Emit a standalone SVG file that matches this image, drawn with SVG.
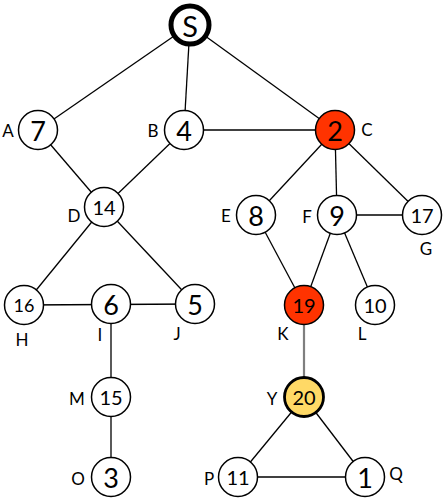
<svg xmlns="http://www.w3.org/2000/svg" width="444" height="498" viewBox="0 0 444 498">
<style>
.n{fill:#fff;stroke:#000;stroke-width:1.5}
.t{font-family:Lato,"Open Sans",sans-serif;text-anchor:middle;dominant-baseline:central;fill:#000}
.big{font-size:27px}
.sm{font-size:20px}
.lb{font-family:Lato,"Open Sans",sans-serif;font-size:17px;text-anchor:middle;dominant-baseline:central;fill:#000}
#edges line{stroke:#000;stroke-width:1.3}
</style>
<rect width="444" height="498" fill="#fff"/>
<g id="edges">
<line x1="190" y1="25" x2="38" y2="130"/>
<line x1="190" y1="25" x2="184" y2="130"/>
<line x1="190" y1="25" x2="335" y2="130"/>
<line x1="38" y1="130" x2="104" y2="207"/>
<line x1="184" y1="130" x2="104" y2="207"/>
<line x1="184" y1="130" x2="335" y2="130"/>
<line x1="335" y1="130" x2="256" y2="215"/>
<line x1="335" y1="130" x2="337" y2="215"/>
<line x1="335" y1="130" x2="422" y2="215"/>
<line x1="337" y1="215" x2="422" y2="215"/>
<line x1="104" y1="207" x2="24" y2="305"/>
<line x1="104" y1="207" x2="195" y2="304"/>
<line x1="24" y1="305" x2="195" y2="304"/>
<line x1="111" y1="304" x2="111" y2="477"/>
<line x1="256" y1="215" x2="304" y2="305"/>
<line x1="337" y1="215" x2="304" y2="305"/>
<line x1="337" y1="215" x2="375" y2="305"/>
<line x1="304" y1="305" x2="304" y2="397" style="stroke:#7f7f7f;stroke-width:2.2"/>
<line x1="304" y1="397" x2="238" y2="477"/>
<line x1="304" y1="397" x2="365" y2="477"/>
<line x1="238" y1="477" x2="365" y2="477"/>
</g>
<g id="S"><circle cx="190" cy="25" r="19" fill="#fff" stroke="#000" stroke-width="5"/><text class="t" x="190" y="25" font-size="29">S</text></g>
<g id="A"><circle class="n" cx="38" cy="130" r="19.5"/><text class="t big" x="38" y="130">7</text><text class="lb" x="8" y="130">A</text></g>
<g id="B"><circle class="n" cx="184" cy="130" r="19.5"/><text class="t big" x="184" y="130">4</text><text class="lb" x="153" y="130">B</text></g>
<g id="C"><circle class="n" cx="335" cy="130" r="19.5" style="fill:#ff3300"/><text class="t big" x="335" y="130">2</text><text class="lb" x="367" y="129">C</text></g>
<g id="D"><circle class="n" cx="104" cy="207" r="19.5"/><text class="t sm" x="104" y="207">14</text><text class="lb" x="74" y="215">D</text></g>
<g id="E"><circle class="n" cx="256" cy="215" r="19.5"/><text class="t big" x="256" y="215">8</text><text class="lb" x="226" y="215">E</text></g>
<g id="F"><circle class="n" cx="337" cy="215" r="19.5"/><text class="t big" x="337" y="215">9</text><text class="lb" x="307" y="216">F</text></g>
<g id="G"><circle class="n" cx="422" cy="215" r="19.5"/><text class="t sm" x="422" y="215">17</text><text class="lb" x="426" y="248">G</text></g>
<g id="H"><circle class="n" cx="24" cy="305" r="19.5"/><text class="t sm" x="24" y="305" style="font-size:18px">16</text><text class="lb" x="22" y="339">H</text></g>
<g id="I"><circle class="n" cx="111" cy="304" r="19.5"/><text class="t big" x="111" y="304">6</text><text class="lb" x="100" y="334">I</text></g>
<g id="J"><circle class="n" cx="195" cy="304" r="19.5"/><text class="t big" x="195" y="304">5</text><text class="lb" x="177" y="333">J</text></g>
<g id="K"><circle class="n" cx="304" cy="305" r="19.5" style="fill:#ff3300"/><text class="t sm" x="304" y="305">19</text><text class="lb" x="283" y="333">K</text></g>
<g id="L"><circle class="n" cx="375" cy="305" r="19.5"/><text class="t sm" x="375" y="305">10</text><text class="lb" x="362" y="333">L</text></g>
<g id="M"><circle class="n" cx="111" cy="397" r="19.5"/><text class="t sm" x="111" y="397">15</text><text class="lb" x="77" y="398">M</text></g>
<g id="Y"><circle class="n" cx="304" cy="397" r="19.5" style="fill:#ffd966;stroke-width:2.8"/><text class="t sm" x="304" y="397">20</text><text class="lb" x="272" y="398">Y</text></g>
<g id="O"><circle class="n" cx="111" cy="477" r="19.5"/><text class="t big" x="111" y="477">3</text><text class="lb" x="78" y="478">O</text></g>
<g id="P"><circle class="n" cx="238" cy="477" r="19.5"/><text class="t sm" x="238" y="477">11</text><text class="lb" x="209" y="478">P</text></g>
<g id="Q"><circle class="n" cx="365" cy="477" r="19.5"/><text class="t big" x="365" y="477">1</text><text class="lb" x="396" y="473">Q</text></g>
</svg>
